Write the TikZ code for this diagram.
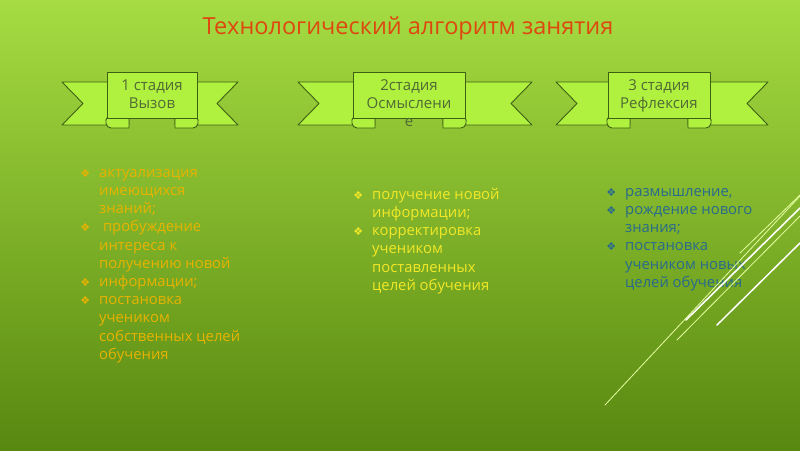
\documentclass[tikz,border=0pt]{standalone}
\usepackage{fontspec}
\setmainfont{Open Sans}
\newfontfamily\symfont{DejaVu Sans}
\definecolor{bgtop}{RGB}{166,220,66}
\definecolor{bgbot}{RGB}{88,136,16}
\definecolor{ribfill}{RGB}{176,240,62}
\definecolor{ribline}{RGB}{62,96,20}
\definecolor{ribtext}{RGB}{80,106,52}
\definecolor{titlec}{RGB}{222,72,16}
\definecolor{colA}{RGB}{232,178,0}
\definecolor{colB}{RGB}{242,232,40}
\definecolor{colC}{RGB}{40,106,140}
\definecolor{deco}{RGB}{230,255,160}
\newcommand\bul{\llap{{\symfont\fontsize{11}{11}\selectfont ❖}\hspace{9pt}}}
\newcommand\ribbon[6]{%
  % #1 left end, #2 box left, #3 box right, #4 right end, #5 name, #6 text
  \draw[ribbonline] (#1,82) -- (#2+22,82) -- (#2+22,125) -- (#1,125) -- (#1+21,103.5) -- cycle;
  \draw[ribbonline] (#4,82) -- (#3-22,82) -- (#3-22,125) -- (#4,125) -- (#4-21,103.5) -- cycle;
  \draw[ribbonline] (#2,118) -- (#2+22,118) -- (#2+22,128) -- (#2+4,128) .. controls (#2-2,128) and (#2-2,119) .. (#2,118) -- cycle;
  \draw[ribbonline] (#3,118) -- (#3-22,118) -- (#3-22,128) -- (#3-4,128) .. controls (#3+2,128) and (#3+2,119) .. (#3,118) -- cycle;
  \draw[ribbonline] (#2,72) rectangle (#3,118);
  \node[ribtextstyle] (#5) at ({(#2+#3)/2},79.5) {#6};
}
\begin{document}
\begin{tikzpicture}[x=1pt,y=-1pt,
  ribbonline/.style={draw=ribline,fill=ribfill,line width=0.9pt,line join=round},
  ribtextstyle/.style={anchor=north,align=center,text=ribtext,inner sep=0pt,
    font=\fontsize{15}{18}\selectfont},
  listtext/.style={anchor=north west,align=left,inner sep=0pt,
    font=\fontsize{14.8}{18.2}\selectfont},
  decoline/.style={draw=deco,line cap=round}]
\useasboundingbox (0,0) rectangle (800,450);
\shade[top color=bgtop,bottom color=bgbot] (0,0) rectangle (800,450);

\node[text=titlec,font=\fontsize{23.5}{26}\selectfont,inner sep=0pt] (title) at (408,28) {Технологический алгоритм занятия};

\ribbon{62}{107}{197}{238}{r1}{1 стадия\\Вызов}
\ribbon{298}{353}{465}{532}{r2}{2стадия\\Осмыслени\\е}
\ribbon{556}{608}{710}{768}{r3}{3 стадия\\Рефлексия}

\node[listtext,text=colA] (colL) at (99,169) {%
\bul актуализация\\
имеющихся\\
знаний;\\
\bul\ пробуждение\\
интереса к\\
получению новой\\
\bul информации;\\
\bul постановка\\
учеником\\
собственных целей\\
обучения};

\node[listtext,text=colB] (colM) at (372,188) {%
\bul получение новой\\
информации;\\
\bul корректировка\\
учеником\\
поставленных\\
целей обучения};

\node[listtext,text=colC] (colR) at (625,188) {%
\bul размышление,\\
\bul рождение нового\\
знания;\\
\bul постановка\\
учеником новых\\
целей обучения};

\coordinate (d1a) at (605,405); \coordinate (d1b) at (800,196);
\coordinate (d2a) at (686,320); \coordinate (d2b) at (800,208);
\coordinate (d3a) at (677,340); \coordinate (d3b) at (800,216);
\coordinate (d4a) at (717,325); \coordinate (d4b) at (800,243);
\coordinate (d5a) at (740,253); \coordinate (d5b) at (800,195);
\draw[decoline,line width=0.8pt] (d1a) -- (d1b);
\draw[decoline,draw=white,line width=1.6pt] (d2a) -- (d2b);
\draw[decoline,line width=0.8pt] (d3a) -- (d3b);
\draw[decoline,draw=white,line width=1.5pt] (d4a) -- (d4b);
\draw[decoline,line width=0.8pt] (d5a) -- (d5b);
\end{tikzpicture}
\end{document}
